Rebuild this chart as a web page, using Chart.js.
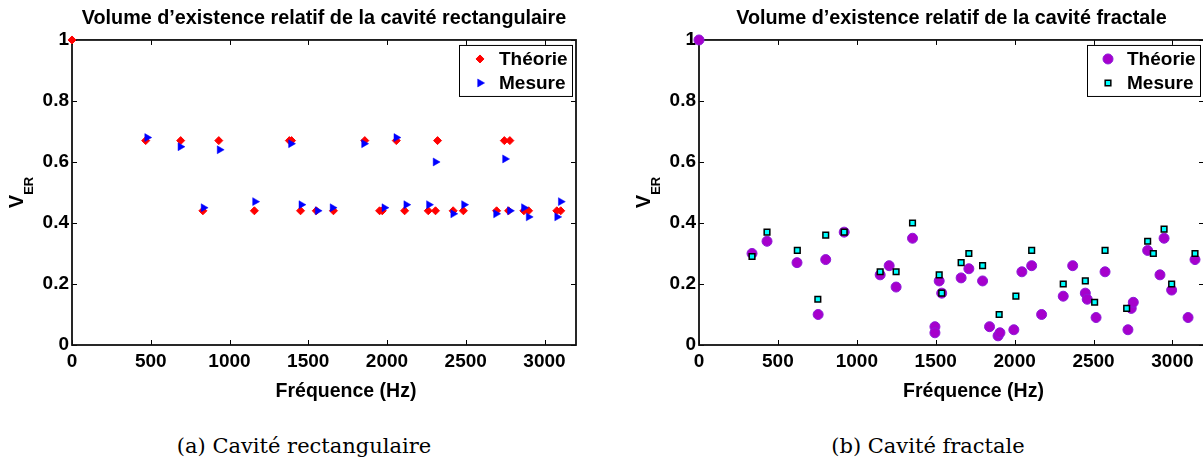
<!DOCTYPE html>
<html>
<head>
<meta charset="utf-8">
<script src="https://cdn.jsdelivr.net/npm/chart.js@4.4.1/dist/chart.umd.min.js"></script>
<style>
html, body { margin: 0; padding: 0; background: #fff; overflow: hidden; width: 1203px; height: 461px; }
#c1 { position: absolute; left: 0; top: 0; }
#c2 { position: absolute; left: 600px; top: 0; }
.cap { position: absolute; top: 434px; width: 400px; text-align: center; font-family: 'DejaVu Serif', serif; font-size: 21px; line-height: 25px; color: #000; white-space: nowrap; }
</style>
</head>
<body>
<canvas id="c1" width="600" height="410"></canvas>
<canvas id="c2" width="610" height="410"></canvas>
<div class="cap" id="capA" style="left:104px"></div>
<div class="cap" id="capB" style="left:728px"></div>
<script>
// ---------- data ----------
const seriesLabels = ['Théorie', 'Mesure'];
const chartTitles = ['Volume d\u2019existence relatif de la cavité rectangulaire', 'Volume d\u2019existence relatif de la cavité fractale'];
const captions = ['(a) Cavité rectangulaire', '(b) Cavité fractale'];
const xAxisTitle = 'Fréquence (Hz)';
const yAxisTitleMain = 'V';
const yAxisTitleSub = 'ER';
const xTickValues = [0, 500, 1000, 1500, 2000, 2500, 3000];
const yTickValues = [0, 0.2, 0.4, 0.6, 0.8, 1];

// Rectangular cavity
const rectTheoryFreq = [0, 468, 690, 831, 932, 1158, 1380, 1394, 1451, 1551, 1660, 1859, 1953, 1970, 2059, 2112, 2262, 2308, 2321, 2420, 2485, 2696, 2745, 2772, 2780, 2869, 2899, 3078, 3103];
const rectTheoryVER  = [1, 0.67, 0.67, 0.44, 0.67, 0.44, 0.67, 0.67, 0.44, 0.44, 0.44, 0.67, 0.44, 0.44, 0.67, 0.44, 0.44, 0.44, 0.67, 0.44, 0.44, 0.44, 0.67, 0.44, 0.67, 0.44, 0.44, 0.44, 0.44];
const rectMesureFreq = [477, 688, 835, 937, 1162, 1390, 1456, 1559, 1654, 1854, 1983, 2059, 2122, 2266, 2308, 2420, 2489, 2692, 2749, 2780, 2869, 2899, 3080, 3103];
const rectMesureVER  = [0.68, 0.65, 0.45, 0.64, 0.47, 0.66, 0.46, 0.44, 0.45, 0.66, 0.45, 0.68, 0.46, 0.46, 0.60, 0.43, 0.46, 0.43, 0.61, 0.44, 0.45, 0.42, 0.42, 0.47];

// Fractal cavity
const fracTheoryFreq = [0, 336, 431, 621, 755, 803, 920, 1148, 1205, 1249, 1353, 1495, 1495, 1522, 1538, 1661, 1710, 1797, 1841, 1895, 1907, 1995, 2046, 2108, 2171, 2308, 2368, 2448, 2460, 2516, 2573, 2718, 2739, 2752, 2843, 2921, 2947, 2995, 3099, 3143];
const fracTheoryVER  = [1, 0.30, 0.34, 0.27, 0.10, 0.28, 0.37, 0.23, 0.26, 0.19, 0.35, 0.06, 0.04, 0.21, 0.17, 0.22, 0.25, 0.21, 0.06, 0.03, 0.04, 0.05, 0.24, 0.26, 0.10, 0.16, 0.26, 0.17, 0.15, 0.09, 0.24, 0.05, 0.12, 0.14, 0.31, 0.23, 0.35, 0.18, 0.09, 0.28];
const fracMesureFreq = [336, 431, 623, 753, 803, 920, 1148, 1249, 1353, 1522, 1538, 1661, 1710, 1797, 1902, 2008, 2108, 2308, 2448, 2507, 2573, 2710, 2843, 2879, 2947, 2995, 3143];
const fracMesureVER  = [0.29, 0.37, 0.31, 0.15, 0.36, 0.37, 0.24, 0.24, 0.40, 0.23, 0.17, 0.27, 0.30, 0.26, 0.10, 0.16, 0.31, 0.20, 0.21, 0.14, 0.31, 0.12, 0.34, 0.30, 0.38, 0.20, 0.30];

// ---------- helpers ----------
const FONT = "'Liberation Sans', Arial, Helvetica, sans-serif";
const pts = (xs, ys) => xs.map((x, i) => ({ x: x, y: ys[i] }));

document.getElementById('capA').textContent = captions[0];
document.getElementById('capB').textContent = captions[1];

const matlabPlugin = {
  id: 'matlabAxes',
  beforeDatasetsDraw(chart) {
    const { ctx, chartArea: a, scales: { x, y } } = chart;
    ctx.save();
    ctx.strokeStyle = '#000';
    ctx.lineWidth = 1;
    ctx.beginPath();
    x.ticks.forEach(t => {
      const px = Math.round(x.getPixelForValue(t.value)) + 0.5;
      ctx.moveTo(px, a.bottom); ctx.lineTo(px, a.bottom - 5);
      ctx.moveTo(px, a.top); ctx.lineTo(px, a.top + 5);
    });
    y.ticks.forEach(t => {
      const py = Math.round(y.getPixelForValue(t.value)) + 0.5;
      ctx.moveTo(a.left, py); ctx.lineTo(a.left + 5, py);
      ctx.moveTo(a.right, py); ctx.lineTo(a.right - 5, py);
    });
    ctx.stroke();
    ctx.lineWidth = 1.8;
    ctx.strokeStyle = '#111';
    ctx.strokeRect(a.left, a.top, a.right - a.left, a.bottom - a.top);
    ctx.restore();
  },
  afterDraw(chart) {
    const { ctx, chartArea: a } = chart;
    ctx.save();
    ctx.fillStyle = '#000';
    // x axis title
    ctx.font = 'bold 19.5px ' + FONT;
    ctx.textAlign = 'center';
    ctx.textBaseline = 'alphabetic';
    ctx.fillText(xAxisTitle, (a.left + a.right) / 2 + 22, 397);
    // y axis title V_ER
    ctx.save();
    ctx.translate(a.left - 49, (a.top + a.bottom) / 2);
    ctx.rotate(-Math.PI / 2);
    ctx.textAlign = 'left';
    ctx.font = 'bold 20px ' + FONT;
    const w1 = ctx.measureText(yAxisTitleMain).width;
    ctx.font = 'bold 13px ' + FONT;
    const w2 = ctx.measureText(yAxisTitleSub).width;
    const s = -(w1 + w2) / 2;
    ctx.font = 'bold 20px ' + FONT;
    ctx.fillText(yAxisTitleMain, s, 0);
    ctx.font = 'bold 13px ' + FONT;
    ctx.fillText(yAxisTitleSub, s + w1, 10);
    ctx.restore();
    // legend
    const bw = 113, bh = 51;
    const bx = a.right - 4 - bw, by = a.top + 5;
    ctx.fillStyle = '#fff';
    ctx.fillRect(bx, by, bw, bh);
    ctx.strokeStyle = '#000';
    ctx.lineWidth = 1;
    ctx.strokeRect(bx + 0.5, by + 0.5, bw, bh);
    chart.data.datasets.forEach((ds, i) => {
      const cy = by + 14 + i * 24;
      ctx.save();
      ctx.fillStyle = ds.backgroundColor;
      ctx.strokeStyle = ds.borderColor;
      ctx.lineWidth = ds.borderWidth;
      Chart.helpers.drawPoint(ctx, {
        pointStyle: ds.pointStyle,
        rotation: ds.pointRotation || 0,
        radius: ds.pointRadius,
        borderWidth: ds.borderWidth
      }, bx + 21, cy);
      ctx.restore();
      ctx.fillStyle = '#000';
      ctx.font = 'bold 19px ' + FONT;
      ctx.textAlign = 'left';
      ctx.textBaseline = 'middle';
      ctx.fillText(ds.label, bx + 40, cy + 1);
    });
    ctx.restore();
  }
};

function makeOptions(title, yWidth, padRight) {
  return {
    responsive: false,
    animation: false,
    devicePixelRatio: 1,
    layout: { padding: { left: 0, right: padRight, top: 0, bottom: 0 } },
    plugins: {
      legend: { display: false },
      tooltip: { enabled: false },
      title: {
        display: true,
        text: title,
        fullSize: false,
        color: '#000',
        font: { family: FONT, size: 19.8, weight: 'bold', lineHeight: 1.2 },
        padding: { top: 6.3, bottom: 9.9 }
      }
    },
    scales: {
      x: {
        type: 'linear',
        min: 0, max: 3200,
        afterBuildTicks: sc => { sc.ticks = xTickValues.map(v => ({ value: v })); },
        afterFit: sc => { sc.height = 65; },
        grid: { display: false, drawTicks: false },
        border: { display: false },
        ticks: {
          color: '#000',
          padding: 5,
          maxRotation: 0,
          autoSkip: false,
          font: { family: FONT, size: 19, weight: 'bold' },
          callback: v => String(v)
        }
      },
      y: {
        type: 'linear',
        min: 0, max: 1,
        afterBuildTicks: sc => { sc.ticks = yTickValues.map(v => ({ value: v })); },
        afterFit: sc => { sc.width = yWidth; },
        grid: { display: false, drawTicks: false },
        border: { display: false },
        ticks: {
          color: '#000',
          padding: 3,
          autoSkip: false,
          font: { family: FONT, size: 19, weight: 'bold' },
          callback: v => String(v)
        }
      }
    }
  };
}

new Chart(document.getElementById('c1'), {
  type: 'scatter',
  data: {
    datasets: [
      {
        label: seriesLabels[0],
        data: pts(rectTheoryFreq, rectTheoryVER),
        pointStyle: 'rectRot',
        pointRadius: 4,
        backgroundColor: '#ff0000',
        borderColor: '#ff0000',
        borderWidth: 1,
        order: 2,
        clip: false
      },
      {
        label: seriesLabels[1],
        data: pts(rectMesureFreq, rectMesureVER),
        pointStyle: 'triangle',
        pointRotation: 90,
        pointRadius: 4.6,
        backgroundColor: '#0000ff',
        borderColor: '#0000ff',
        borderWidth: 0.5,
        order: 1,
        clip: false
      }
    ]
  },
  options: makeOptions(chartTitles[0], 72, 24),
  plugins: [matlabPlugin]
});

new Chart(document.getElementById('c2'), {
  type: 'scatter',
  data: {
    datasets: [
      {
        label: seriesLabels[0],
        data: pts(fracTheoryFreq, fracTheoryVER),
        pointStyle: 'circle',
        pointRadius: 5,
        backgroundColor: '#a600cc',
        borderColor: '#8c1ad9',
        borderWidth: 1,
        order: 2,
        clip: false
      },
      {
        label: seriesLabels[1],
        data: pts(fracMesureFreq, fracMesureVER),
        pointStyle: 'rect',
        pointRadius: 4,
        backgroundColor: '#00ffff',
        borderColor: '#000000',
        borderWidth: 1.5,
        order: 1,
        clip: false
      }
    ]
  },
  options: makeOptions(chartTitles[1], 99, 6),
  plugins: [matlabPlugin]
});
</script>
</body>
</html>
